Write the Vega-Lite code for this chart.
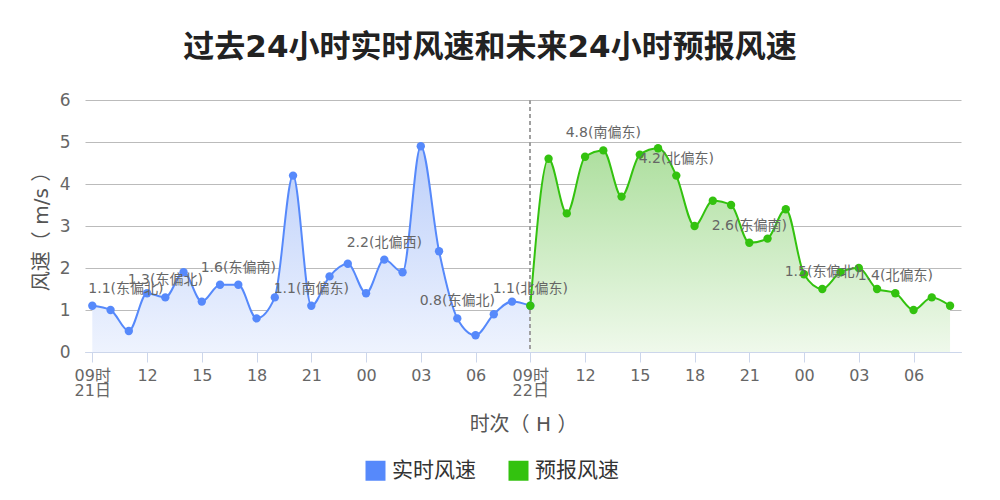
{
  "$schema": "https://vega.github.io/schema/vega-lite/v6.json",
  "width": 876,
  "height": 252,
  "autosize": {"type": "none"},
  "padding": {"left": 85, "top": 100, "right": 39, "bottom": 148},
  "background": "white",
  "config": {
    "view": {"stroke": null},
    "font": "DejaVu Sans, Noto Sans CJK SC"
  },
  "title": {
    "text": "过去24小时实时风速和未来24小时预报风速",
    "fontSize": 31,
    "fontWeight": "bold",
    "color": "#222222",
    "font": "DejaVu Sans, Noto Sans CJK SC",
    "anchor": "middle",
    "offset": 27,
    "dx": -33
  },
  "data": {
    "values": [
      {"h": 0, "v": 1.1, "series": "实时风速", "label": "1.1(东偏北)"},
      {"h": 1, "v": 1.0, "series": "实时风速", "label": ""},
      {"h": 2, "v": 0.5, "series": "实时风速", "label": ""},
      {"h": 3, "v": 1.4, "series": "实时风速", "label": ""},
      {"h": 4, "v": 1.3, "series": "实时风速", "label": "1.3(东偏北)"},
      {"h": 5, "v": 1.9, "series": "实时风速", "label": ""},
      {"h": 6, "v": 1.2, "series": "实时风速", "label": ""},
      {"h": 7, "v": 1.6, "series": "实时风速", "label": ""},
      {"h": 8, "v": 1.6, "series": "实时风速", "label": "1.6(东偏南)"},
      {"h": 9, "v": 0.8, "series": "实时风速", "label": ""},
      {"h": 10, "v": 1.3, "series": "实时风速", "label": ""},
      {"h": 11, "v": 4.2, "series": "实时风速", "label": ""},
      {"h": 12, "v": 1.1, "series": "实时风速", "label": "1.1(南偏东)"},
      {"h": 13, "v": 1.8, "series": "实时风速", "label": ""},
      {"h": 14, "v": 2.1, "series": "实时风速", "label": ""},
      {"h": 15, "v": 1.4, "series": "实时风速", "label": ""},
      {"h": 16, "v": 2.2, "series": "实时风速", "label": "2.2(北偏西)"},
      {"h": 17, "v": 1.9, "series": "实时风速", "label": ""},
      {"h": 18, "v": 4.9, "series": "实时风速", "label": ""},
      {"h": 19, "v": 2.4, "series": "实时风速", "label": ""},
      {"h": 20, "v": 0.8, "series": "实时风速", "label": "0.8(东偏北)"},
      {"h": 21, "v": 0.4, "series": "实时风速", "label": ""},
      {"h": 22, "v": 0.9, "series": "实时风速", "label": ""},
      {"h": 23, "v": 1.2, "series": "实时风速", "label": ""},
      {"h": 24, "v": 1.1, "series": "实时风速", "label": ""},
      {"h": 24, "v": 1.1, "series": "预报风速", "label": "1.1(北偏东)"},
      {"h": 25, "v": 4.6, "series": "预报风速", "label": ""},
      {"h": 26, "v": 3.3, "series": "预报风速", "label": ""},
      {"h": 27, "v": 4.65, "series": "预报风速", "label": ""},
      {"h": 28, "v": 4.8, "series": "预报风速", "label": "4.8(南偏东)"},
      {"h": 29, "v": 3.7, "series": "预报风速", "label": ""},
      {"h": 30, "v": 4.7, "series": "预报风速", "label": ""},
      {"h": 31, "v": 4.85, "series": "预报风速", "label": ""},
      {"h": 32, "v": 4.2, "series": "预报风速", "label": "4.2(北偏东)"},
      {"h": 33, "v": 3.0, "series": "预报风速", "label": ""},
      {"h": 34, "v": 3.6, "series": "预报风速", "label": ""},
      {"h": 35, "v": 3.5, "series": "预报风速", "label": ""},
      {"h": 36, "v": 2.6, "series": "预报风速", "label": "2.6(东偏南)"},
      {"h": 37, "v": 2.7, "series": "预报风速", "label": ""},
      {"h": 38, "v": 3.4, "series": "预报风速", "label": ""},
      {"h": 39, "v": 1.85, "series": "预报风速", "label": ""},
      {"h": 40, "v": 1.5, "series": "预报风速", "label": "1.5(东偏北)"},
      {"h": 41, "v": 1.9, "series": "预报风速", "label": ""},
      {"h": 42, "v": 2.0, "series": "预报风速", "label": ""},
      {"h": 43, "v": 1.5, "series": "预报风速", "label": ""},
      {"h": 44, "v": 1.4, "series": "预报风速", "label": "1.4(北偏东)"},
      {"h": 45, "v": 1.0, "series": "预报风速", "label": ""},
      {"h": 46, "v": 1.3, "series": "预报风速", "label": ""},
      {"h": 47, "v": 1.1, "series": "预报风速", "label": ""}
    ]
  },
  "encoding": {
    "x": {
      "field": "h",
      "type": "quantitative",
      "scale": {"domain": [-0.4, 47.6], "nice": false, "zero": false},
      "axis": {
        "values": [0, 3, 6, 9, 12, 15, 18, 21, 24, 27, 30, 33, 36, 39, 42, 45],
        "labelExpr": "datum.value == 0 ? ['09时', '21日'] : datum.value == 24 ? ['09时', '22日'] : (((9 + datum.value) % 24) < 10 ? '0' : '') + ((9 + datum.value) % 24)",
        "grid": false,
        "domainColor": "#ccd6eb",
        "tickColor": "#ccd6eb",
        "tickSize": 10,
        "labelFontSize": 16,
        "labelColor": "#666666",
        "labelPadding": 5,
        "labelLineHeight": 15,
        "labelOverlap": false,
        "labelFlush": false,
        "labelBound": false,
        "title": "时次（ H ）",
        "titleFontSize": 20,
        "titleFontWeight": "normal",
        "titleColor": "#555555",
        "titlePadding": 16
      }
    },
    "y": {
      "field": "v",
      "type": "quantitative",
      "scale": {"domain": [0, 6], "nice": false},
      "axis": {
        "values": [0, 1, 2, 3, 4, 5, 6],
        "grid": true,
        "gridColor": "#bbbbbb",
        "domain": false,
        "ticks": false,
        "labelFontSize": 17,
        "labelColor": "#666666",
        "labelPadding": 15,
        "title": "风速（ m/s ）",
        "titleFontSize": 20,
        "titleFontWeight": "normal",
        "titleColor": "#555555",
        "titlePadding": 8
      }
    },
    "color": {
      "field": "series",
      "type": "nominal",
      "scale": {"domain": ["实时风速", "预报风速"], "range": ["#5689fb", "#33c20f"]},
      "legend": {
        "title": null,
        "orient": "none",
        "legendX": 280,
        "legendY": 360,
        "direction": "horizontal",
        "symbolType": "square",
        "symbolSize": 400,
        "symbolStrokeWidth": 0,
        "symbolOpacity": 1,
        "labelFontSize": 21,
        "labelColor": "#333333",
        "labelOffset": 6,
        "columnPadding": 32,
        "padding": 0
      }
    }
  },
  "layer": [
    {
      "transform": [{"filter": "datum.series == '实时风速'"}],
      "mark": {
        "type": "area",
        "interpolate": "monotone",
        "color": {
          "gradient": "linear",
          "x1": 0, "y1": 0, "x2": 0, "y2": 1,
          "stops": [
            {"offset": 0, "color": "#bccffa"},
            {"offset": 1, "color": "#eef3fe"}
          ]
        }
      },
      "encoding": {"color": null}
    },
    {
      "transform": [{"filter": "datum.series == '预报风速'"}],
      "mark": {
        "type": "area",
        "interpolate": "monotone",
        "color": {
          "gradient": "linear",
          "x1": 0, "y1": 0, "x2": 0, "y2": 1,
          "stops": [
            {"offset": 0, "color": "#addf9e"},
            {"offset": 1, "color": "#eff9eb"}
          ]
        }
      },
      "encoding": {"color": null}
    },
    {
      "mark": {"type": "rule", "color": "#a0a0a0", "strokeDash": [4, 3], "strokeWidth": 1},
      "encoding": {
        "x": {"datum": 24, "type": "quantitative"},
        "y": null,
        "color": null
      }
    },
    {
      "mark": {"type": "line", "interpolate": "monotone", "strokeWidth": 2}
    },
    {
      "mark": {"type": "point", "filled": true, "size": 70, "opacity": 1}
    },
    {
      "transform": [{"filter": "datum.label != '' && datum.h != 0"}],
      "mark": {"type": "text", "fontSize": 14, "color": "#666666", "dy": -17, "baseline": "middle", "align": "center"},
      "encoding": {"text": {"field": "label"}, "color": null}
    },
    {
      "transform": [{"filter": "datum.label != '' && datum.h == 0"}],
      "mark": {"type": "text", "fontSize": 14, "color": "#666666", "dy": -17, "dx": -4, "baseline": "middle", "align": "left"},
      "encoding": {"text": {"field": "label"}, "color": null}
    }
  ]
}
